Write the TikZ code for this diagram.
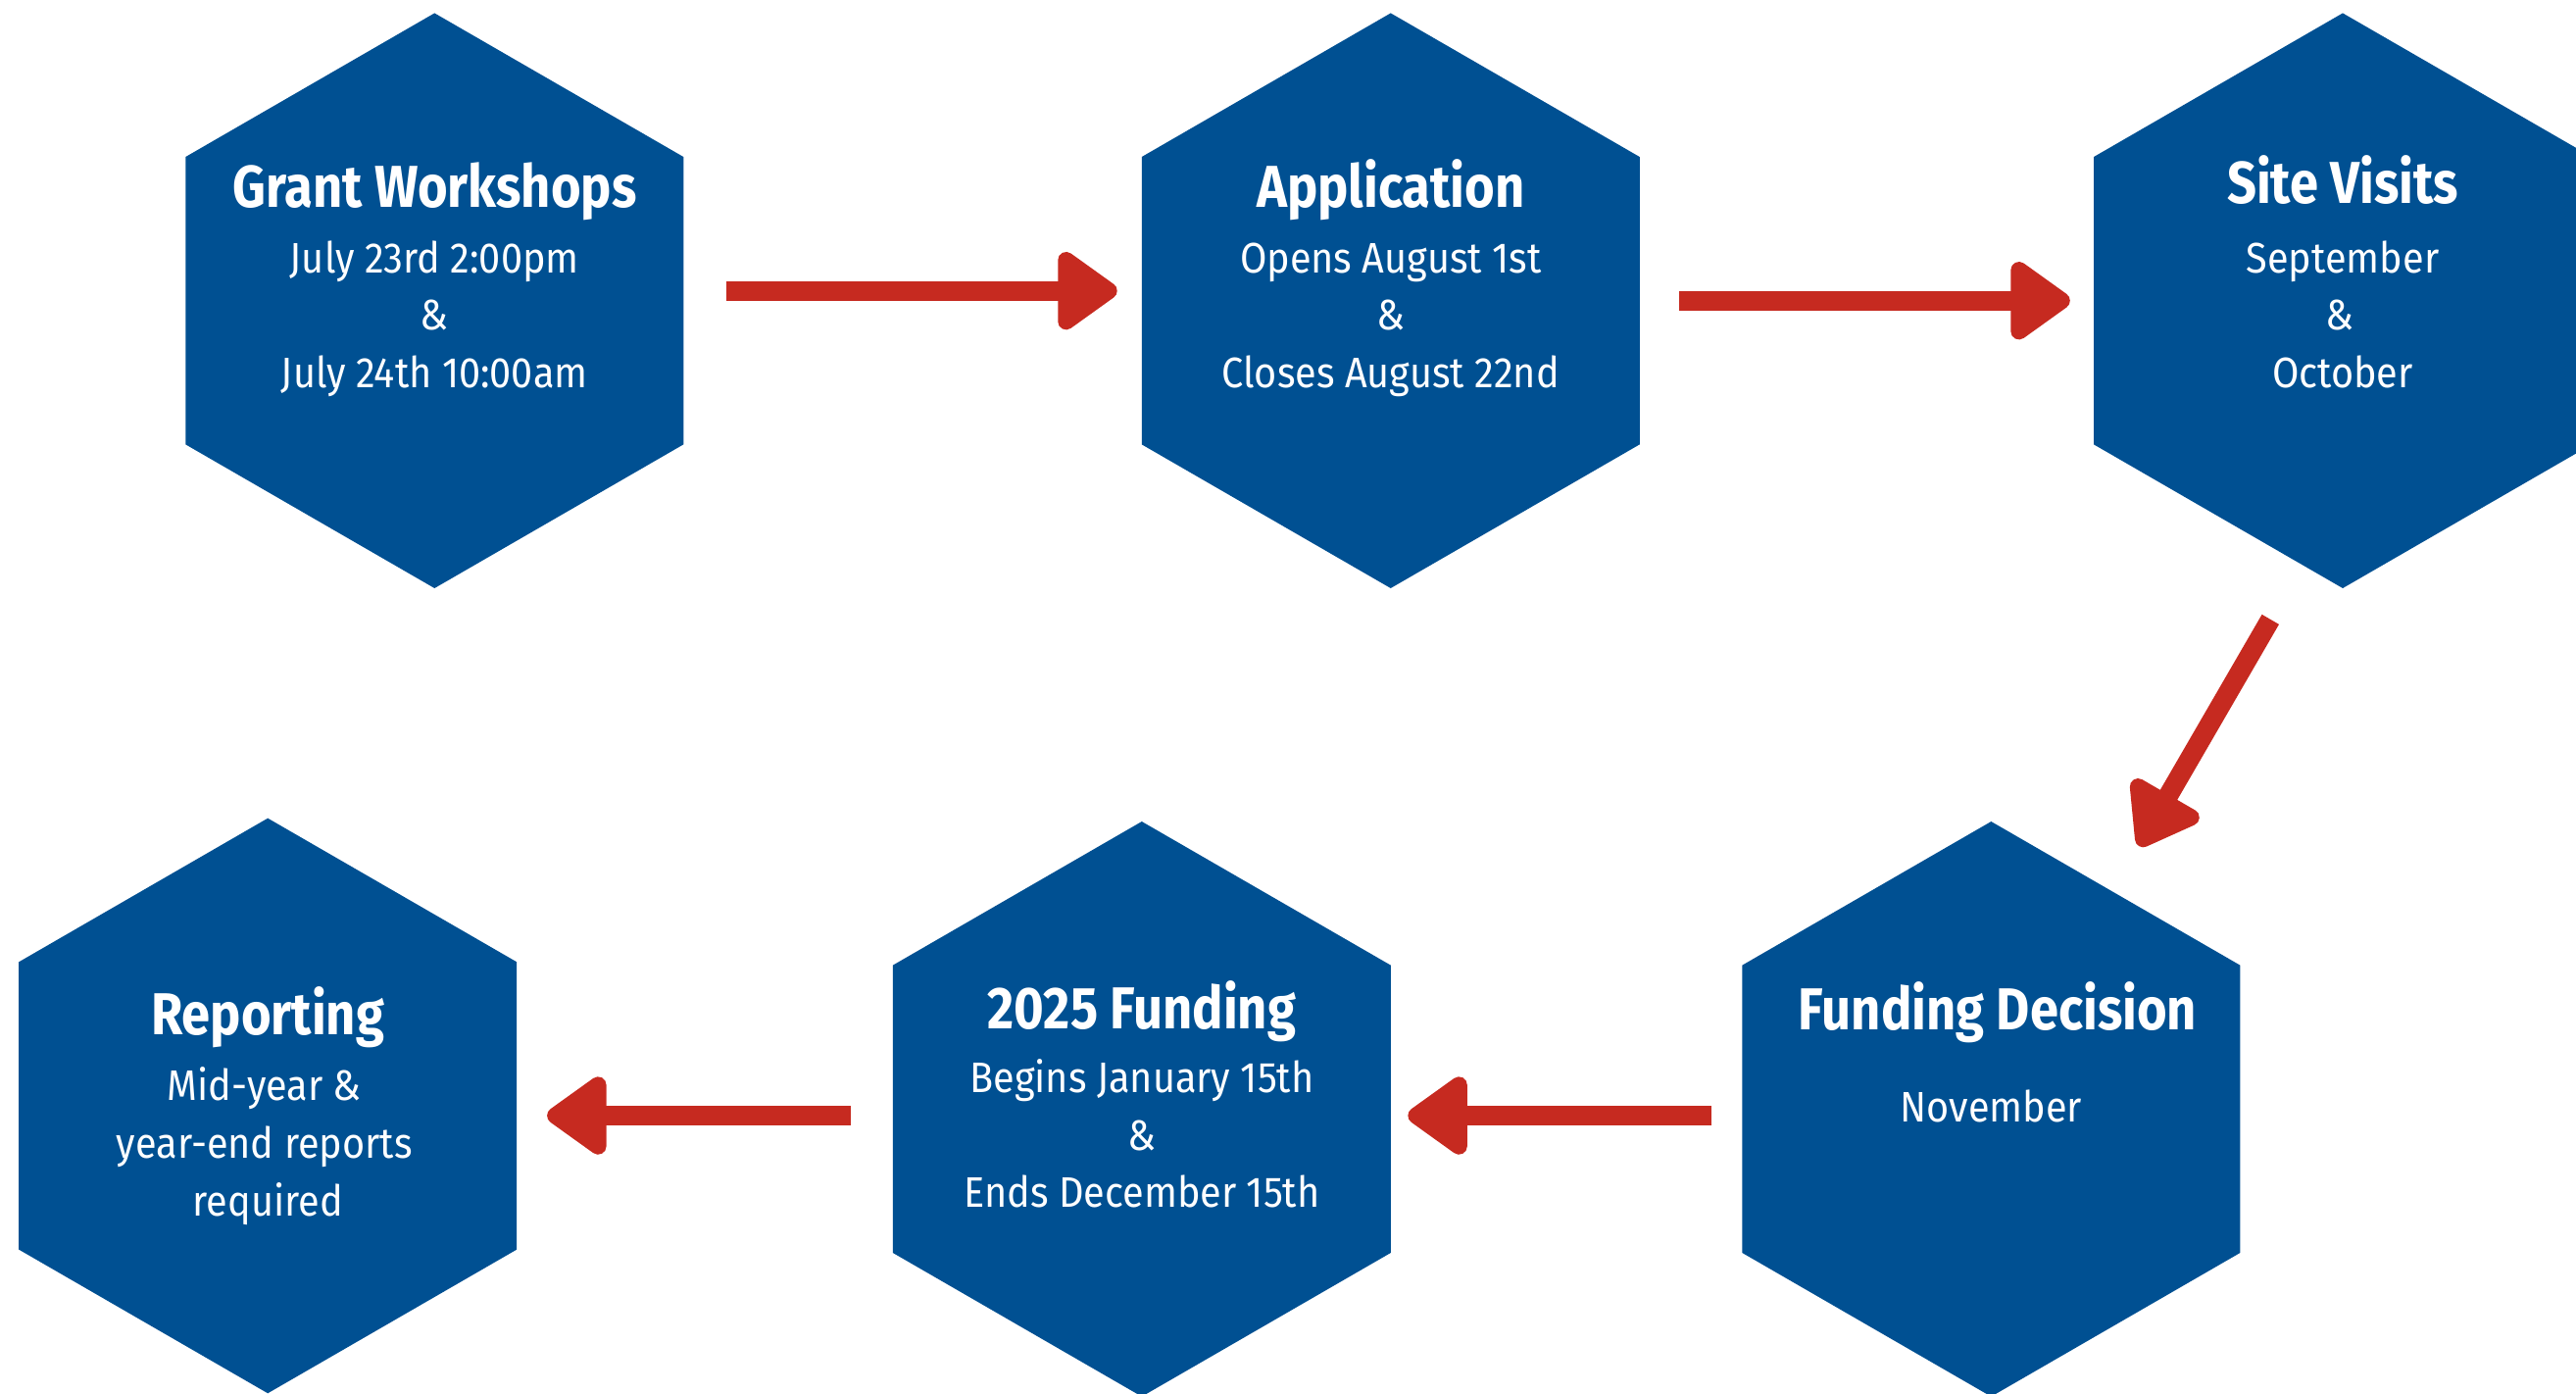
\documentclass[tikz,border=0pt]{standalone}
\usepackage{fontspec}
\setmainfont{Fira Sans}[FakeStretch=0.91]
\newfontfamily\titlefont{Fira Sans}[FakeStretch=0.87]
\usetikzlibrary{arrows.meta}
\definecolor{hexblue}{HTML}{005092}
\definecolor{arrred}{HTML}{C62A20}
\tikzset{
  hexfill/.style={fill=hexblue},
  ttl/.style={font=\fontsize{36}{40}\titlefont\bfseries, text=white, anchor=base, inner sep=0pt},
  sub/.style={font=\fontsize{26}{30}\selectfont, text=white, anchor=base, inner sep=0pt},
  flow/.style={draw=arrred, line width=12pt, -{Triangle[length=40pt,width=54pt,round]}}
}
\newcommand\hexagonat[1]{\fill[hexfill] (#1) ++(0,-175) -- ++(151.55,87.5) -- ++(0,175) -- ++(-151.55,87.5) -- ++(-151.55,-87.5) -- ++(0,-175) -- cycle;}
\begin{document}
\begin{tikzpicture}[x=1pt,y=-1pt]
\useasboundingbox (0,0) rectangle (1568,848);
\clip (0,0) rectangle (1568,848);
% centres
\coordinate (gw) at (264.5,183);
\coordinate (app) at (846.5,183);
\coordinate (sv) at (1426,183);
\coordinate (fd) at (1212,675);
\coordinate (fund) at (695,675);
\coordinate (rep) at (163,673);
\hexagonat{gw}
\hexagonat{app}
\hexagonat{sv}
\hexagonat{fd}
\hexagonat{fund}
\hexagonat{rep}
% texts
\node[ttl] (gwt) at (264.5,126) {Grant Workshops};
\node[sub] (gw1) at (264.5,166) {July 23rd 2:00pm};
\node[sub] (gw2) at (264.5,201) {\&};
\node[sub] (gw3) at (264.5,236) {July 24th 10:00am};
\node[ttl] (appt) at (846.5,126) {Application};
\node[sub] (app1) at (846.5,166) {Opens August 1st};
\node[sub] (app2) at (846.5,201) {\&};
\node[sub] (app3) at (846.5,236) {Closes August 22nd};
\node[ttl] (svt) at (1426,124) {Site Visits};
\node[sub] (sv1) at (1426,166) {September};
\node[sub] (sv2) at (1424,201) {\&};
\node[sub] (sv3) at (1426,236) {October};
\node[ttl] (fdt) at (1216,627) {Funding Decision};
\node[sub] (fd1) at (1212,683) {November};
\node[ttl] (fundt) at (695,626) {2025 Funding};
\node[sub] (fund1) at (695,665) {Begins January 15th};
\node[sub] (fund2) at (695,700) {\&};
\node[sub] (fund3) at (695,735) {Ends December 15th};
\node[ttl] (rept) at (163,630) {Reporting};
\node[sub] (rep1) at (161,670) {Mid-year \&};
\node[sub] (rep2) at (161,705) {year-end reports};
\node[sub] (rep3) at (163,740) {required};
% arrows
\coordinate (a1s) at (442,177); \coordinate (a1e) at (680,177);
\coordinate (a2s) at (1022,183); \coordinate (a2e) at (1260,183);
\coordinate (a3s) at (1382,377); \coordinate (a3e) at (1302,515);
\coordinate (a4s) at (1042,679); \coordinate (a4e) at (857,679);
\coordinate (a5s) at (518,679); \coordinate (a5e) at (333,679);
\draw[flow] (a1s) -- (a1e);
\draw[flow] (a2s) -- (a2e);
\draw[flow] (a3s) -- (a3e);
\draw[flow] (a4s) -- (a4e);
\draw[flow] (a5s) -- (a5e);
\end{tikzpicture}
\end{document}
